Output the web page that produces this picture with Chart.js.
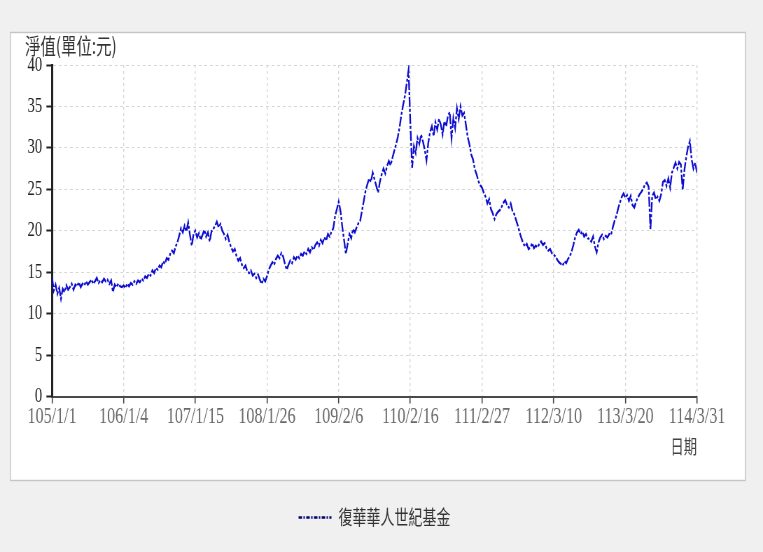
<!DOCTYPE html>
<html><head><meta charset="utf-8">
<script src="https://cdn.jsdelivr.net/npm/chart.js@4.4.1/dist/chart.umd.min.js"></script>
<style>
html,body{margin:0;padding:0;background:#f0f0f0;overflow:hidden;}
#wrap{width:763px;height:552px;overflow:hidden;position:relative;}
#c{position:absolute;left:0;top:0;width:1090px;height:552px;transform:scaleX(0.7);transform-origin:0 0;}
</style></head><body>
<div id="wrap"><canvas id="c" width="1090" height="552"></canvas></div>
<script>
const SX = 0.7; // horizontal compression of the original rendering

const seriesName = '復華華人世紀基金';
const yAxisTitle = '淨值(單位:元)';
const xAxisTitle = '日期';
const dateTicks = ['105/1/1','106/1/4','107/1/15','108/1/26','109/2/6','110/2/16','111/2/27','112/3/10','113/3/20','114/3/31'];
const yTicks = [0, 5, 10, 15, 20, 25, 30, 35, 40];

const navValues = [
  14.4, 12.8, 13.5, 12.4, 13.1, 11.8, 13.0, 12.6, 13.4, 12.9,
  13.2, 13.6, 12.9, 13.5, 13.3, 13.8, 13.2, 13.6, 13.4, 13.9,
  13.5, 13.8, 14.1, 13.6, 13.9, 14.3, 13.7, 14.0, 13.8, 14.2,
  13.9, 14.1, 13.6, 14.0, 12.6, 13.5, 13.2, 13.6, 13.3, 13.2,
  13.4, 13.1, 13.6, 13.3, 13.7, 13.5, 13.9, 13.6, 14.0, 13.8,
  14.2, 14.0, 14.5, 14.3, 14.8, 14.6, 15.2, 14.9, 15.5, 15.3,
  15.8, 15.6, 16.3, 16.0, 16.7, 16.5, 17.2, 17.6, 17.3, 18.1,
  18.6, 19.4, 20.3, 19.8, 20.6, 19.9, 21.0, 19.5, 18.2, 19.6,
  20.0, 19.2, 19.7, 18.9, 19.5, 20.1, 19.3, 19.8, 18.7, 19.9,
  20.2, 20.6, 21.1, 20.4, 20.8, 20.0, 19.6, 19.0, 19.5, 18.6,
  18.0, 17.5, 17.8, 16.9, 16.4, 16.7, 15.9, 15.5, 15.8, 15.1,
  14.9, 15.2, 14.6, 14.8, 14.3, 14.7, 14.1, 13.6, 14.2, 13.9,
  14.5, 15.3, 15.8, 16.2, 15.9, 16.6, 17.0, 16.7, 17.3, 16.9,
  16.0, 15.3, 15.9, 16.4, 16.1, 16.8, 16.5, 17.0, 16.7, 17.2,
  17.0, 17.5, 17.2, 17.8, 17.4, 18.0, 17.7, 18.3, 18.6, 18.2,
  18.9, 18.5, 19.2, 18.8, 19.6, 19.3, 19.9, 20.3, 21.8, 22.6,
  23.5, 22.4, 20.5, 18.9, 17.2, 18.4, 19.6, 19.1, 20.2, 19.8,
  20.4, 20.9, 21.2, 22.4, 23.6, 24.8, 25.6, 26.3, 25.9, 27.0,
  26.2, 25.4, 24.6, 25.9, 26.8, 27.5, 26.9, 27.8, 28.4, 27.9,
  28.8, 29.6, 30.4, 31.3, 32.5, 34.0, 35.2, 36.3, 37.8, 39.4,
  33.0, 27.6, 30.2, 29.4, 31.2, 30.5, 31.6, 30.8, 29.8, 28.5,
  30.6, 31.9, 32.6, 31.4, 33.1, 32.2, 33.5, 32.8, 31.6, 33.2,
  32.6, 33.9, 34.3, 31.2, 33.6, 32.4, 34.8, 33.5, 35.0, 33.9,
  34.2, 32.8, 31.3, 30.4, 29.2, 28.6, 27.4, 26.8, 26.0, 25.5,
  25.2, 24.6, 24.1, 23.3, 23.8, 22.6, 22.1, 21.4, 22.0, 22.3,
  22.5, 22.9, 23.4, 23.7, 23.1, 22.8, 23.3, 22.4, 22.0, 21.3,
  20.6, 19.8, 19.1, 18.5, 18.1, 18.4, 17.8, 18.0, 18.5, 17.9,
  18.2, 18.0, 18.4, 18.7, 18.3, 18.5, 17.9, 17.6, 17.8, 17.3,
  17.1, 16.9, 16.5, 16.2, 16.0, 15.8, 16.3, 16.1, 16.6, 16.9,
  17.5, 18.3, 19.2, 19.8, 20.1, 19.6, 19.9, 19.3, 19.6, 19.1,
  19.0, 18.7, 19.3, 18.1, 17.4, 18.6, 19.2, 19.5, 19.0, 19.4,
  19.2, 19.6, 19.5, 20.4, 21.2, 21.8, 22.7, 23.4, 24.1, 24.5,
  24.0, 24.3, 23.6, 24.2, 23.1, 22.8, 23.5, 24.0, 24.4, 24.7,
  25.1, 25.6, 25.8, 25.3, 20.1, 24.2, 24.6, 23.8, 24.1, 23.6,
  24.4, 25.9, 26.1, 25.4, 26.3, 25.2, 27.0, 27.6, 28.2, 27.5,
  28.3, 28.0, 24.9, 27.4, 28.9, 30.1, 30.8, 28.6, 27.5, 28.2,
  27.0
];

const lastIndex = navValues.length - 1;
const tickStep = lastIndex / (dateTicks.length - 1);
const X = v => v / SX; // convert screen x to canvas x
const cjk = '"Noto Sans CJK TC", "Noto Sans CJK SC", sans-serif';

const panelPlugin = {
  id: 'panel',
  beforeDraw(chart) {
    const ctx = chart.ctx;
    ctx.save();
    ctx.fillStyle = '#ffffff';
    ctx.fillRect(X(10), 32, X(735), 448);
    ctx.strokeStyle = '#c4c4c4';
    ctx.lineWidth = 1.4;
    ctx.strokeRect(X(10) + 0.5, 32.5, X(735), 448);
    ctx.restore();
  },
  afterDraw(chart) {
    const ctx = chart.ctx;
    ctx.save();
    ctx.fillStyle = '#333333';
    ctx.font = '22px ' + cjk;
    ctx.textBaseline = 'middle';
    ctx.textAlign = 'left';
    ctx.fillText(yAxisTitle, X(25), 46);
    ctx.restore();
  }
};

new Chart(document.getElementById('c'), {
  type: 'line',
  data: {
    datasets: [{
      label: seriesName,
      data: navValues.map((v, i) => ({x: i, y: v})),
      borderColor: '#0c0cd0',
      backgroundColor: '#0c0cd0',
      borderWidth: 2.3,
      borderDash: [10, 2, 3, 2],
      pointRadius: 0,
      tension: 0,
      fill: false
    }]
  },
  options: {
    responsive: false,
    animation: false,
    devicePixelRatio: 1,
    layout: { padding: { left: X(10), right: 1090 - X(697), top: 65, bottom: 14.5 } },
    plugins: {
      legend: {
        position: 'bottom',
        fullSize: false,
        labels: {
          usePointStyle: true,
          pointStyle: 'line',
          pointStyleWidth: 47,
          boxHeight: 20,
          padding: 8,
          color: '#333',
          font: { family: cjk, size: 20 },
          generateLabels: chart => Chart.defaults.plugins.legend.labels.generateLabels(chart).map(l => Object.assign(l, {
            strokeStyle: '#000070', lineDash: [5, 2, 2, 2], lineWidth: 2.6
          }))
        }
      },
      tooltip: { enabled: false }
    },
    scales: {
      x: {
        type: 'linear',
        min: 0,
        max: lastIndex,
        afterFit: s => { s.height = 500 - 397; },
        ticks: {
          stepSize: tickStep,
          autoSkip: false,
          maxRotation: 0,
          padding: 0,
          color: '#6a6a6a',
          font: { family: '"Liberation Serif", serif', size: 23 },
          callback: v => dateTicks[Math.round(v / tickStep)]
        },
        grid: {
          color: '#d6d6d6',
          lineWidth: 1.4,
          tickColor: '#444',
          tickLength: 7,
          tickWidth: 1.6,
          tickBorderDash: []
        },
        border: { display: true, color: '#4a4a4a', width: 2, dash: [3, 3] },
        title: {
          display: true,
          text: xAxisTitle,
          align: 'end',
          color: '#444',
          font: { family: cjk, size: 19 },
          padding: { top: 0, bottom: 41.5 }
        }
      },
      y: {
        min: 0,
        max: 40,
        afterFit: s => { s.width = X(52) - X(10); },
        ticks: {
          stepSize: 2.5,
          padding: 6,
          color: '#222',
          font: { family: '"Liberation Serif", serif', size: 21 },
          callback: v => (yTicks.includes(v) ? String(v) : '')
        },
        grid: {
          color: c => (c.tick && yTicks.includes(c.tick.value) && c.tick.value !== 0 ? '#d6d6d6' : 'rgba(0,0,0,0)'),
          tickColor: '#222',
          tickLength: 8,
          tickWidth: 2,
          tickBorderDash: []
        },
        border: { display: true, color: '#222', width: 3, dash: [4, 4] }
      }
    }
  },
  plugins: [panelPlugin]
});
</script>
</body></html>
